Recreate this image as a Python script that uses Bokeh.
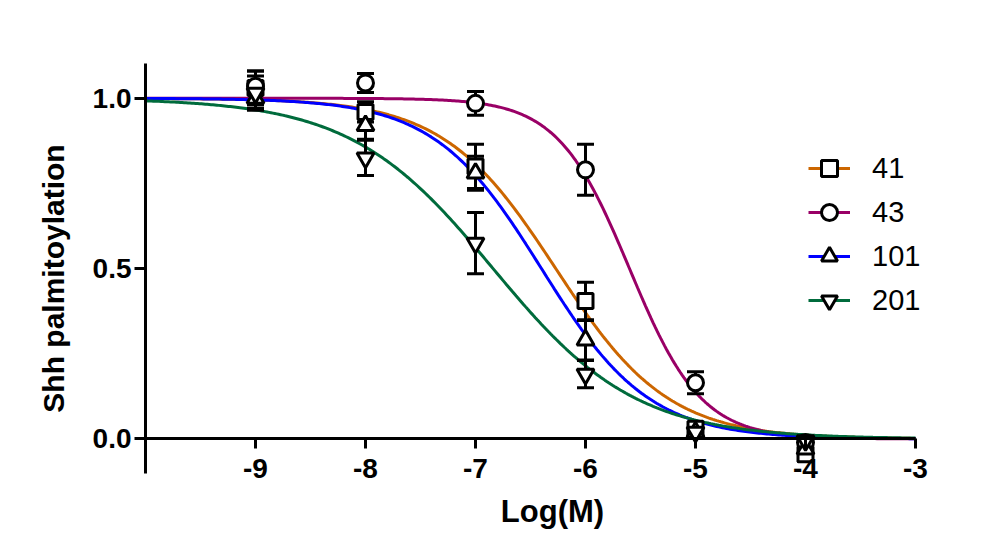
import numpy as np
from bokeh.plotting import figure
from bokeh.models import (FixedTicker, PrintfTickFormatter, Legend, LegendItem, Range1d,
                          ColumnDataSource, LinearAxis)
from bokeh.embed import file_html
from bokeh.resources import INLINE

# ---- data ----
log_dose = [-9, -8, -7, -6, -5, -4]
series_names = ["41", "43", "101", "201"]
mean_41 = [1.03, 0.96, 0.80, 0.405, 0.03, -0.045]
sem_41 = [0.05, 0.03, 0.065, 0.055, 0.012, 0.02]
mean_43 = [1.035, 1.045, 0.985, 0.79, 0.165, -0.01]
sem_43 = [0.045, 0.028, 0.035, 0.075, 0.032, 0.01]
mean_101 = [1.0, 0.92, 0.78, 0.29, 0.02, -0.03]
sem_101 = [0.03, 0.04, 0.05, 0.058, 0.01, 0.015]
mean_201 = [1.015, 0.825, 0.575, 0.19, 0.02, -0.005]
sem_201 = [0.05, 0.052, 0.09, 0.04, 0.012, 0.01]

# four-parameter logistic fit parameters
fit_top = [1.0, 1.0, 1.0, 1.0]
fit_bottom = [0.0, 0.0, 0.0, 0.0]
fit_logic50 = [-6.27, -5.60, -6.40, -6.84]
fit_hill = [0.85, 1.33, 0.89, 0.67]

x_ticks = [-9, -8, -7, -6, -5, -4, -3]
y_ticks = [0.0, 0.5, 1.0]

colors = ["#CC6600", "#990066", "#0000FF", "#006B3C"]
markers = ["square", "circle", "triangle", "inverted_triangle"]
marker_sizes = [15, 16, 17, 17]

means = [mean_41, mean_43, mean_101, mean_201]
sems = [sem_41, sem_43, sem_101, sem_201]

FONT = "Liberation Sans"

p = figure(width=987, height=532, output_backend="svg", toolbar_location=None,
           x_range=Range1d(-10, -2.6), y_range=Range1d(-0.16, 1.102),
           min_border_left=145, min_border_right=28, min_border_top=63, min_border_bottom=39)
p.outline_line_color = None
p.xgrid.visible = False
p.ygrid.visible = False
p.background_fill_color = "white"

# axes
xa = p.xaxis[0]
xa.fixed_location = 0
xa.bounds = (-10, -3)
xa.ticker = FixedTicker(ticks=x_ticks)
xa.formatter = PrintfTickFormatter(format="%d")
ya = p.yaxis[0]
ya.bounds = (-0.1, 1.102)
ya.ticker = FixedTicker(ticks=y_ticks)
ya.formatter = PrintfTickFormatter(format="%.1f")
ya.axis_label = "Shh palmitoylation"
for ax in (xa, ya):
    ax.axis_line_width = 3
    ax.axis_line_color = "black"
    ax.major_tick_line_width = 3
    ax.major_tick_line_color = "black"
    ax.major_tick_in = 0
    ax.minor_tick_line_color = None
    ax.major_label_text_font = FONT
    ax.major_label_text_font_style = "bold"
    ax.major_label_text_color = "black"
    ax.axis_label_text_font = FONT
    ax.axis_label_text_font_style = "bold"
    ax.axis_label_text_color = "black"
xa.major_tick_out = 10
xa.major_label_standoff = 10
xa.major_label_text_font_size = "28px"
ya.major_tick_out = 11
ya.major_label_standoff = 3
ya.major_label_text_font_size = "28px"
ya.axis_label_text_font_size = "30px"
ya.axis_label_standoff = 20

# x-axis title carried by a second, otherwise invisible axis below the frame
title_axis = LinearAxis(axis_label="Log(M)", ticker=FixedTicker(ticks=[]),
                        axis_line_color=None, major_tick_line_color=None,
                        minor_tick_line_color=None, major_tick_out=0, major_tick_in=0,
                        major_label_text_font_size="0px", major_label_standoff=0,
                        axis_label_standoff=0, axis_label_text_font=FONT,
                        axis_label_text_font_style="bold", axis_label_text_font_size="31px",
                        axis_label_text_color="black")
p.add_layout(title_axis, "below")

xs_curve = np.linspace(-10, -3, 400)
line_renderers = []
for i in range(4):
    ys = fit_bottom[i] + (fit_top[i] - fit_bottom[i]) / (1 + 10 ** ((xs_curve - fit_logic50[i]) * fit_hill[i]))
    r = p.line(xs_curve, ys, line_color=colors[i], line_width=3)
    line_renderers.append(r)

# error bars
for i in range(4):
    m = np.array(means[i]); s = np.array(sems[i])
    src = ColumnDataSource(dict(x=log_dose, lo=m - s, hi=m + s))
    p.segment(x0="x", y0="lo", x1="x", y1="hi", source=src, line_color="black", line_width=3)
    p.scatter(x="x", y="lo", source=src, marker="dash", size=17, line_color="black", line_width=3)
    p.scatter(x="x", y="hi", source=src, marker="dash", size=17, line_color="black", line_width=3)

marker_renderers = []
for i in range(4):
    r = p.scatter(log_dose, means[i], marker=markers[i], size=marker_sizes[i],
                  line_color="black", line_width=3, fill_color="white")
    marker_renderers.append(r)

items = [LegendItem(label=series_names[i], renderers=[line_renderers[i], marker_renderers[i]]) for i in range(4)]
legend = Legend(items=items, location=(663, 173), padding=0, margin=0, spacing=4,
                glyph_width=42, glyph_height=40, label_height=40, label_standoff=22,
                label_text_font=FONT, label_text_font_size="29px", label_text_color="black",
                border_line_alpha=0, background_fill_alpha=0)
p.add_layout(legend, "center")

open("out.html", "w").write(file_html(p, INLINE))
